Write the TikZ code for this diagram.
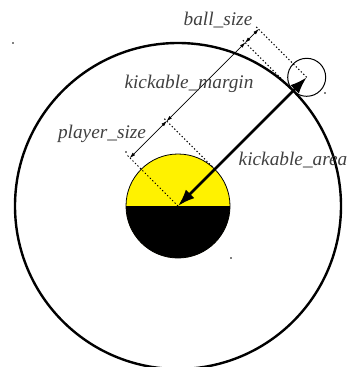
\documentclass[tikz,border=0pt]{standalone}
\usepackage{fontspec}
\setmainfont{Liberation Serif}
\usetikzlibrary{calc,arrows.meta}
\begin{document}
\begin{tikzpicture}[x=1pt,y=-1pt,
    lbl/.style={font=\fontsize{19.3}{22}\selectfont\itshape, text=black!75, inner sep=0pt},
    dimline/.style={line width=0.7pt, {Latex[length=6pt,width=3.5pt]}-{Latex[length=6pt,width=3.5pt]}, shorten <=-0.5pt, shorten >=-0.5pt},
    guide/.style={line width=1pt, dash pattern=on 1.3pt off 2.2pt}]
  \useasboundingbox (0,0) rectangle (349,367);
  % centre of the player and points along the kick direction
  \coordinate (c) at (178,206);
  \coordinate (p1) at ($(c)+(36.8,-36.8)$);
  \coordinate (p2) at ($(c)+(115.3,-115.3)$);
  \coordinate (b) at ($(c)+(128.7,-128.7)$);
  % the same points moved over to the dimension line
  \coordinate (d0) at ($(c)+(-48.1,-48.1)$);
  \coordinate (d1) at ($(p1)+(-48.1,-48.1)$);
  \coordinate (d2) at ($(p2)+(-48.1,-48.1)$);
  \coordinate (d3) at ($(b)+(-48.1,-48.1)$);
  % kickable area and ball
  \draw[line width=2.4pt] (c) circle (163);
  \draw[line width=1pt] (b) circle (19);
  % player body
  \fill[yellow] (c) circle (52);
  \fill[black] ($(c)+(52,0)$) arc[start angle=0, end angle=180, radius=52] -- cycle;
  \draw[line width=0.8pt] (c) circle (52);
  % extension lines
  \draw[guide] (c) -- ($(d0)+(-3,-3)$);
  \draw[guide] (p1) -- ($(d1)+(-3,-3)$);
  \draw[guide] (p2) -- ($(d2)+(-3,-3)$);
  \draw[guide] (b) -- ($(d3)+(-3,-3)$);
  % dimension lines
  \draw[dimline] (d0) -- (d1);
  \draw[dimline] (d1) -- (d2);
  \draw[dimline] (d2) -- (d3);
  \draw[line width=2.6pt, {Latex[length=17pt,width=12pt]}-{Latex[length=17pt,width=12pt]}] (c) -- (b);
  % labels
  \node[lbl] (ballsz) at (218,20) {ball\_size};
  \node[lbl] (margin) at (189,84) {kickable\_margin};
  \node[lbl] (plsz) at (102,134) {player\_size};
  \node[lbl] (area) at (293,160) {kickable\_area};
  % stray marks
  \foreach \p in {(13,43),(126,152),(231,258),(325,93)}
    \fill \p circle (0.8);
\end{tikzpicture}
\end{document}
